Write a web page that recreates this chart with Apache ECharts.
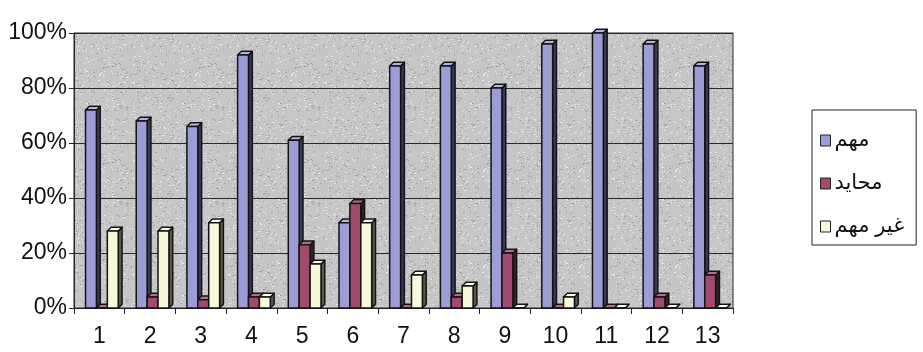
<!DOCTYPE html>
<html>
<head>
<meta charset="utf-8">
<script src="https://cdn.jsdelivr.net/npm/echarts@6/dist/echarts.min.js"></script>
<style>
  html, body { margin: 0; padding: 0; background: #ffffff; }
  #chart { width: 923px; height: 352px; }
</style>
</head>
<body>
<div id="chart"></div>
<script>
// Survey items 1..13 and the share of answers in each rating
const categories = ['1', '2', '3', '4', '5', '6', '7', '8', '9', '10', '11', '12', '13'];
const important    = [72, 68, 66, 92, 61, 31, 88, 88, 80, 96, 100, 96, 88]; // مهم
const neutral      = [0, 4, 3, 4, 23, 38, 0, 4, 20, 0, 0, 4, 12];           // محايد
const notImportant = [28, 28, 31, 4, 16, 31, 12, 8, 0, 4, 0, 0, 0];          // غير مهم
const yTicks = [0, 20, 40, 60, 80, 100];

const seriesDefs = [
  { name: 'مهم',     data: important,    front: '#9c9cd6', side: '#3a3a5a', top: '#b4b4e4' },
  { name: 'محايد',   data: neutral,      front: '#9e4b6c', side: '#3c1d2a', top: '#b86c88' },
  { name: 'غير مهم', data: notImportant, front: '#f8f8da', side: '#5a5a48', top: '#ffffee' }
];

const FONT = '"Liberation Sans", Arial, "DejaVu Sans", sans-serif';

// Granite-style wall fill: a small tile of light and dark flecks on gray.
function graniteTile() {
  const size = 96;
  const c = document.createElement('canvas');
  c.width = size; c.height = size;
  const g = c.getContext('2d');
  g.fillStyle = '#c6c6c6';
  g.fillRect(0, 0, size, size);
  let s = 12345;
  const next = () => { s = (s * 1103515245 + 12345) & 0x7fffffff; return s / 0x7fffffff; };
  for (let i = 0; i < 800; i++) {
    const x = Math.floor(next() * size);
    const y = Math.floor(next() * size);
    const t = next();
    g.fillStyle = t < 0.55 ? 'rgba(245,245,245,0.65)' : 'rgba(125,125,125,0.45)';
    g.fillRect(x, y, next() < 0.7 ? 1 : 2, 1);
  }
  return c;
}

// Draws one column as a small box: front face, right side face and top face.
function boxRenderer(index, def) {
  return function (params, api) {
    const xi = api.value(0);
    const v = api.value(1);
    const base = api.coord([xi, 0]);
    const topPt = api.coord([xi, v]);
    const band = api.size([1, 0])[0];
    const bw = band * 0.215;
    const dx = band * 0.075;
    const dy = band * 0.075;
    const x0 = base[0] - 1.5 * bw + band * 0.05 + index * bw;
    const x1 = x0 + bw;
    const yb = base[1];
    const yt = topPt[1];
    const stroke = { stroke: '#141414', lineWidth: 1.5, lineJoin: 'round' };
    return {
      type: 'group',
      children: [
        {
          type: 'polygon',
          shape: { points: [[x1, yt], [x1 + dx, yt - dy], [x1 + dx, yb - dy], [x1, yb]] },
          style: Object.assign({ fill: def.side }, stroke)
        },
        {
          type: 'polygon',
          shape: { points: [[x0, yt], [x0 + dx, yt - dy], [x1 + dx, yt - dy], [x1, yt]] },
          style: Object.assign({ fill: def.top }, stroke)
        },
        {
          type: 'rect',
          shape: { x: x0, y: yt, width: bw, height: Math.max(yb - yt, 0) },
          style: Object.assign({ fill: def.front }, stroke)
        }
      ]
    };
  };
}

const chart = echarts.init(document.getElementById('chart'), null, { renderer: 'canvas' });

chart.setOption({
  animation: false,
  backgroundColor: '#ffffff',
  textStyle: { fontFamily: FONT },
  grid: {
    left: 74, right: 190, top: 33, bottom: 44,
    show: true,
    backgroundColor: { image: graniteTile(), repeat: 'repeat' },
    borderColor: '#2a2a2a',
    borderWidth: 1
  },
  legend: {
    orient: 'vertical',
    left: 812,
    top: 110,
    padding: [20, 12, 8, 8],
    itemGap: 22,
    itemWidth: 10,
    itemHeight: 11,
    backgroundColor: '#ffffff',
    borderColor: '#222',
    borderWidth: 1,
    borderRadius: 0,
    textStyle: { fontSize: 21, color: '#111', fontFamily: FONT, padding: [0, 0, 0, -1] },
    data: seriesDefs.map(d => ({
      name: d.name,
      icon: 'rect',
      itemStyle: { color: d.front, borderColor: '#222', borderWidth: 1 }
    }))
  },
  xAxis: {
    type: 'category',
    data: categories,
    boundaryGap: true,
    axisLine: { show: true, lineStyle: { color: '#222', width: 1 } },
    axisTick: { show: true, length: 6, alignWithLabel: false, lineStyle: { color: '#222' } },
    axisLabel: { fontSize: 23, color: '#111', margin: 17, fontFamily: FONT },
    splitLine: { show: false }
  },
  yAxis: {
    type: 'value',
    min: 0,
    max: 100,
    interval: 20,
    axisLine: { show: true, lineStyle: { color: '#222', width: 1 } },
    axisTick: { show: true, length: 5, lineStyle: { color: '#222' } },
    axisLabel: {
      fontSize: 23, color: '#111', margin: 7, fontFamily: FONT,
      formatter: v => (yTicks.indexOf(v) >= 0 ? v + '%' : '')
    },
    splitLine: { show: true, lineStyle: { color: '#2a2a2a', width: 1 } }
  },
  series: seriesDefs.map((d, i) => ({
    type: 'custom',
    name: d.name,
    itemStyle: { color: d.front },
    renderItem: boxRenderer(i, d),
    encode: { x: 0, y: 1 },
    data: d.data.map((v, k) => [k, v])
  }))
});
</script>
</body>
</html>
